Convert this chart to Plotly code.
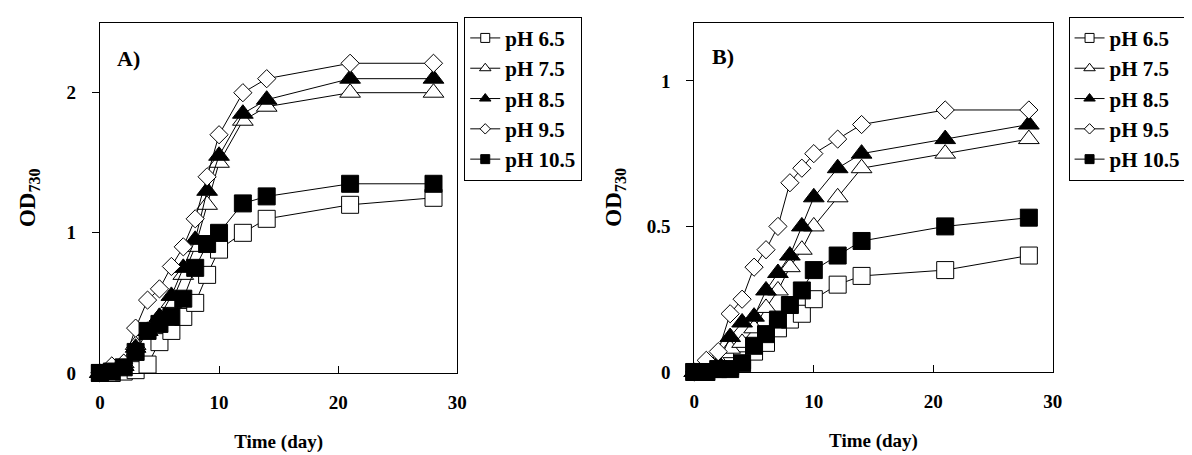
import plotly.graph_objects as go

# ---------------- data ----------------
days = [0, 1, 2, 3, 4, 5, 6, 7, 8, 9, 10, 12, 14, 21, 28]
series_names = ["pH 6.5", "pH 7.5", "pH 8.5", "pH 9.5", "pH 10.5"]

# Panel A
a_ph65 = [0, 0, 0.01, 0.02, 0.06, 0.22, 0.30, 0.40, 0.50, 0.70, 0.88, 1.00, 1.10, 1.20, 1.25]
a_ph75 = [0, 0.05, 0.07, 0.20, 0.30, 0.40, 0.50, 0.70, 0.90, 1.20, 1.50, 1.80, 1.90, 2.00, 2.00]
a_ph85 = [0, 0.02, 0.05, 0.18, 0.30, 0.40, 0.55, 0.75, 0.95, 1.30, 1.55, 1.85, 1.95, 2.10, 2.10]
a_ph95 = [0, 0.05, 0.07, 0.32, 0.52, 0.60, 0.76, 0.90, 1.10, 1.40, 1.70, 2.00, 2.10, 2.21, 2.21]
a_ph105 = [0, 0.01, 0.04, 0.15, 0.30, 0.35, 0.40, 0.53, 0.75, 0.92, 1.00, 1.21, 1.26, 1.35, 1.35]

# Panel B
b_ph65 = [0, 0, 0.01, 0.02, 0.04, 0.07, 0.10, 0.15, 0.18, 0.20, 0.25, 0.30, 0.33, 0.35, 0.40]
b_ph75 = [0, 0.01, 0.04, 0.08, 0.10, 0.15, 0.22, 0.28, 0.36, 0.42, 0.50, 0.60, 0.70, 0.75, 0.80]
b_ph85 = [0, 0.01, 0.03, 0.12, 0.17, 0.19, 0.28, 0.34, 0.40, 0.50, 0.60, 0.70, 0.75, 0.80, 0.85]
b_ph95 = [0, 0.04, 0.07, 0.20, 0.25, 0.36, 0.42, 0.50, 0.65, 0.70, 0.75, 0.80, 0.85, 0.90, 0.90]
b_ph105 = [0, 0, 0.01, 0.01, 0.03, 0.09, 0.13, 0.18, 0.23, 0.28, 0.35, 0.40, 0.45, 0.50, 0.53]

x_ticks = [0, 10, 20, 30]
a_y_ticks = [0, 1, 2]
b_y_ticks = [0, 0.5, 1]

# ---------------- styles ----------------
styles = [
    dict(symbol="square", color="white", size=17),
    dict(symbol="triangle-up", color="white", size=18),
    dict(symbol="triangle-up", color="black", size=18),
    dict(symbol="diamond", color="white", size=14),
    dict(symbol="square", color="black", size=17),
]
legend_sizes = [9, 10, 10, 8, 9]

W, H = 1192, 455
FONT = "Liberation Serif"

fig = go.Figure()

panels = [
    ("x", "y", "legend", [a_ph65, a_ph75, a_ph85, a_ph95, a_ph105]),
    ("x2", "y2", "legend2", [b_ph65, b_ph75, b_ph85, b_ph95, b_ph105]),
]

for xa, ya, leg, data in panels:
    for name, vals, st in zip(series_names, data, styles):
        fig.add_trace(go.Scatter(
            x=days, y=vals, mode="lines+markers", name=name,
            xaxis=xa, yaxis=ya, showlegend=False, cliponaxis=False,
            line=dict(color="black", width=1),
            marker=dict(symbol=st["symbol"], size=st["size"], color=st["color"],
                        line=dict(color="black", width=1)),
        ))
    # legend-only entries with small symbols
    for name, st, ls in zip(series_names, styles, legend_sizes):
        fig.add_trace(go.Scatter(
            x=[None], y=[None], mode="lines+markers", name=name,
            xaxis=xa, yaxis=ya, legend=leg, showlegend=True,
            line=dict(color="black", width=1),
            marker=dict(symbol=st["symbol"], size=ls, color=st["color"],
                        line=dict(color="black", width=1)),
        ))


def px_x(p):
    return p / W


def px_y(p):
    return 1 - p / H


axis_common = dict(
    showgrid=False, zeroline=False, showline=True, linecolor="black", linewidth=1,
    mirror=True, tickcolor="black", ticklen=7, tickwidth=1,
    tickfont=dict(family=FONT, size=19, color="black", weight="bold"),
)
xtitle_font = dict(family=FONT, size=19, color="black", weight="bold")
ytitle_font = dict(family=FONT, size=23, color="black", weight="bold")
legend_font = dict(family=FONT, size=21, color="black", weight="bold")

fig.update_layout(
    width=W, height=H,
    margin=dict(l=0, r=0, t=0, b=0),
    paper_bgcolor="white", plot_bgcolor="white",
    font=dict(family=FONT, color="black", weight="bold"),
    xaxis=dict(domain=[px_x(88), px_x(450)], range=[0, 30], tickvals=x_ticks,
               ticks="inside", anchor="y", ticklabelstandoff=12,
               title=dict(text="Time (day)", font=xtitle_font, standoff=22),
               **axis_common),
    yaxis=dict(domain=[px_y(374), px_y(15)], range=[0, 2.5], tickvals=a_y_ticks,
               ticks="outside", anchor="x", ticklabelstandoff=12,
               title=dict(text="OD<sub>730</sub>", font=ytitle_font, standoff=24),
               **axis_common),
    xaxis2=dict(domain=[px_x(690), px_x(1053)], range=[0, 30], tickvals=x_ticks,
                ticks="inside", anchor="y2", ticklabelstandoff=12,
                title=dict(text="Time (day)", font=xtitle_font, standoff=22),
                **axis_common),
    yaxis2=dict(domain=[px_y(373), px_y(15)], range=[0, 1.2], tickvals=b_y_ticks,
                ticktext=["0", "0.5", "1"],
                ticks="outside", anchor="x2", ticklabelstandoff=12,
                title=dict(text="OD<sub>730</sub>", font=ytitle_font, standoff=18),
                **axis_common),
    legend=dict(x=px_x(457), y=px_y(9), xanchor="left", yanchor="top",
                bgcolor="white", bordercolor="black", borderwidth=1,
                font=legend_font, itemsizing="trace"),
    legend2=dict(x=px_x(1069), y=px_y(9), xanchor="left", yanchor="top",
                 bgcolor="white", bordercolor="black", borderwidth=1,
                 font=legend_font, itemsizing="trace"),
    annotations=[
        dict(text="A)", x=px_x(103), y=px_y(52), xref="paper", yref="paper",
             xanchor="left", yanchor="middle", showarrow=False,
             font=dict(family=FONT, size=22, color="black", weight="bold")),
        dict(text="B)", x=px_x(706), y=px_y(50), xref="paper", yref="paper",
             xanchor="left", yanchor="middle", showarrow=False,
             font=dict(family=FONT, size=22, color="black", weight="bold")),
    ],
)

fig.write_html("out.html")
